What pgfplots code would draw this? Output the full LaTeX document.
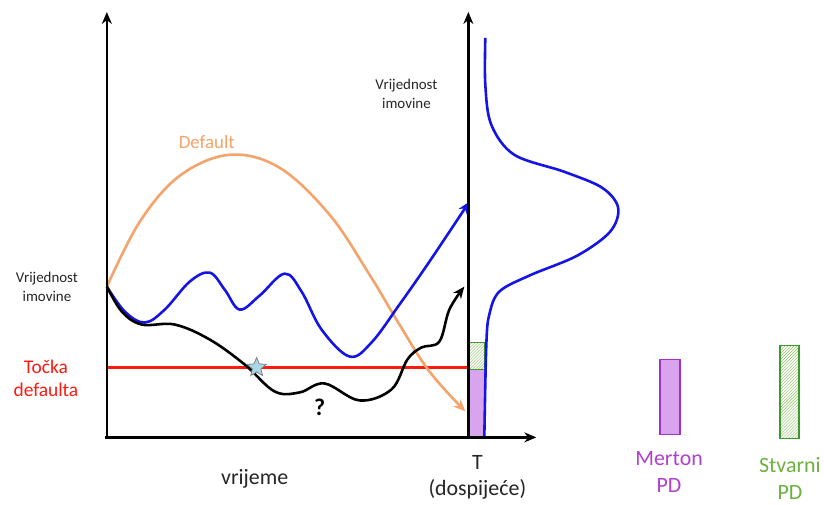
\documentclass[border=0pt]{standalone}
\usepackage{pgfplots}
\pgfplotsset{compat=1.18}
\usetikzlibrary{arrows.meta,patterns}
\usepackage{fontspec}
\setmainfont{Carlito}

\definecolor{orng}{HTML}{F4A46A}
\definecolor{blu}{HTML}{1414E6}
\definecolor{redl}{HTML}{FF1A10}
\definecolor{purpfill}{HTML}{D8A4EE}
\definecolor{purpline}{HTML}{A030C8}
\definecolor{purptext}{HTML}{B040D0}
\definecolor{grnline}{HTML}{3C9A2A}
\definecolor{grnhatch}{HTML}{8CC060}
\definecolor{grntext}{HTML}{6CB040}
\definecolor{starfill}{HTML}{A8D8E8}

% filled five-pointed star
\pgfdeclareplotmark{fstar}{%
  \pgfpathmoveto{\pgfpointpolar{90}{\pgfplotmarksize}}%
  \pgfpathlineto{\pgfpointpolar{126}{0.45\pgfplotmarksize}}%
  \pgfpathlineto{\pgfpointpolar{162}{\pgfplotmarksize}}%
  \pgfpathlineto{\pgfpointpolar{198}{0.45\pgfplotmarksize}}%
  \pgfpathlineto{\pgfpointpolar{234}{\pgfplotmarksize}}%
  \pgfpathlineto{\pgfpointpolar{270}{0.45\pgfplotmarksize}}%
  \pgfpathlineto{\pgfpointpolar{306}{\pgfplotmarksize}}%
  \pgfpathlineto{\pgfpointpolar{342}{0.45\pgfplotmarksize}}%
  \pgfpathlineto{\pgfpointpolar{18}{\pgfplotmarksize}}%
  \pgfpathlineto{\pgfpointpolar{54}{0.45\pgfplotmarksize}}%
  \pgfpathclose
  \pgfusepathqfillstroke}

\begin{document}
\begin{tikzpicture}
\begin{axis}[
  scale only axis, width=824bp, height=505bp,
  xmin=0, xmax=824, ymin=0, ymax=505, y dir=reverse,
  hide axis, clip=false]

% page area
\addplot [draw=none, fill=white] coordinates {(0,0) (824,0) (824,505) (0,505)} -- cycle;

% bars at maturity
\addplot [fill=purpfill, draw=purpline, line width=1.6pt] coordinates {(469,370) (485,370) (485,438) (469,438)} -- cycle;
\addplot [pattern=north east lines, pattern color=grnhatch, draw=grnline, line width=1.6pt] coordinates {(469,343) (485,343) (485,370) (469,370)} -- cycle;

% default threshold
\addplot [redl, line width=2.4pt] coordinates {(107,368) (469,368)};

% orange path
\addplot [orng, line width=2.6pt, smooth, tension=0.6, -{Stealth[length=12pt,width=10pt]}] coordinates
 {(107,287) (140,222) (180,176) (230,155) (280,168) (330,215) (370,275) (400,325) (430,372) (466,412)};

% blue path
\addplot [blu, line width=2.6pt, smooth, tension=0.6, -{Stealth[length=12pt,width=10pt]}] coordinates
 {(107,287) (125,312) (145,323) (165,310) (190,282) (210,273) (225,290) (240,310) (260,296) (285,274) (302,292) (322,330) (350,357) (372,343) (400,305) (430,262) (470,202)};

% black path
\addplot [black, line width=2.6pt, smooth, tension=0.6, -{Stealth[length=12pt,width=10pt]}] coordinates
 {(107,287) (122,312) (142,325) (175,325) (210,340) (245,365) (275,392) (300,393) (325,384) (360,401) (392,390) (408,360) (422,348) (440,342) (450,310) (465,287)};

% star
\addplot [only marks, mark=fstar, mark size=10pt, mark options={fill=starfill, draw=gray, line width=0.8pt}] coordinates {(257,368)};

% density at T
\addplot [blu, line width=2.6pt, smooth, tension=0.55] coordinates
 {(486,38) (486,85) (492,125) (515,155) (565,172) (603,188) (619,208) (611,232) (578,256) (530,276) (500,292) (490,315) (487,345) (485,438)};

% axes
\addplot [black, line width=2.4pt, -{Stealth[length=12pt,width=10pt]}] coordinates {(107,438) (107,12)};
\addplot [black, line width=2.4pt, -{Stealth[length=12pt,width=10pt]}] coordinates {(469,438) (469,12)};
\addplot [black, line width=2.4pt, -{Stealth[length=12pt,width=10pt]}] coordinates {(105,438) (537,438)};

% legend bars
\addplot [fill=purpfill, draw=purpline, line width=1.6pt] coordinates {(661,360) (681,360) (681,435) (661,435)} -- cycle;
\addplot [pattern=north east lines, pattern color=grnhatch, draw=grnline, line width=1.6pt] coordinates {(781,346) (800,346) (800,439) (781,439)} -- cycle;

% texts
\node [align=center, font=\fontsize{15}{19}\selectfont, text=black!85] at (axis cs:47,287) {Vrijednost\\imovine};
\node [align=center, font=\fontsize{15}{19}\selectfont, text=black!85] at (axis cs:407,94) {Vrijednost\\imovine};
\node [align=center, font=\fontsize{19.5}{23}\selectfont, text=redl] at (axis cs:46,379) {Točka\\defaulta};
\node [font=\fontsize{19}{22}\selectfont, text=orng] at (axis cs:207,142) {Default};
\node [font=\bfseries\fontsize{24}{28}\selectfont] at (axis cs:320,408) {?};
\node [font=\fontsize{22}{27}\selectfont, text=black!85] at (axis cs:255,480) {vrijeme};
\node [align=center, font=\fontsize{22}{27}\selectfont, text=black!85] at (axis cs:478,478) {T\\(dospijeće)};
\node [align=center, font=\fontsize{22}{27}\selectfont, text=purptext] at (axis cs:670,473) {Merton\\PD};
\node [align=center, font=\fontsize{22}{27}\selectfont, text=grntext] at (axis cs:791,479) {Stvarni\\PD};

\end{axis}
\end{tikzpicture}
\end{document}
